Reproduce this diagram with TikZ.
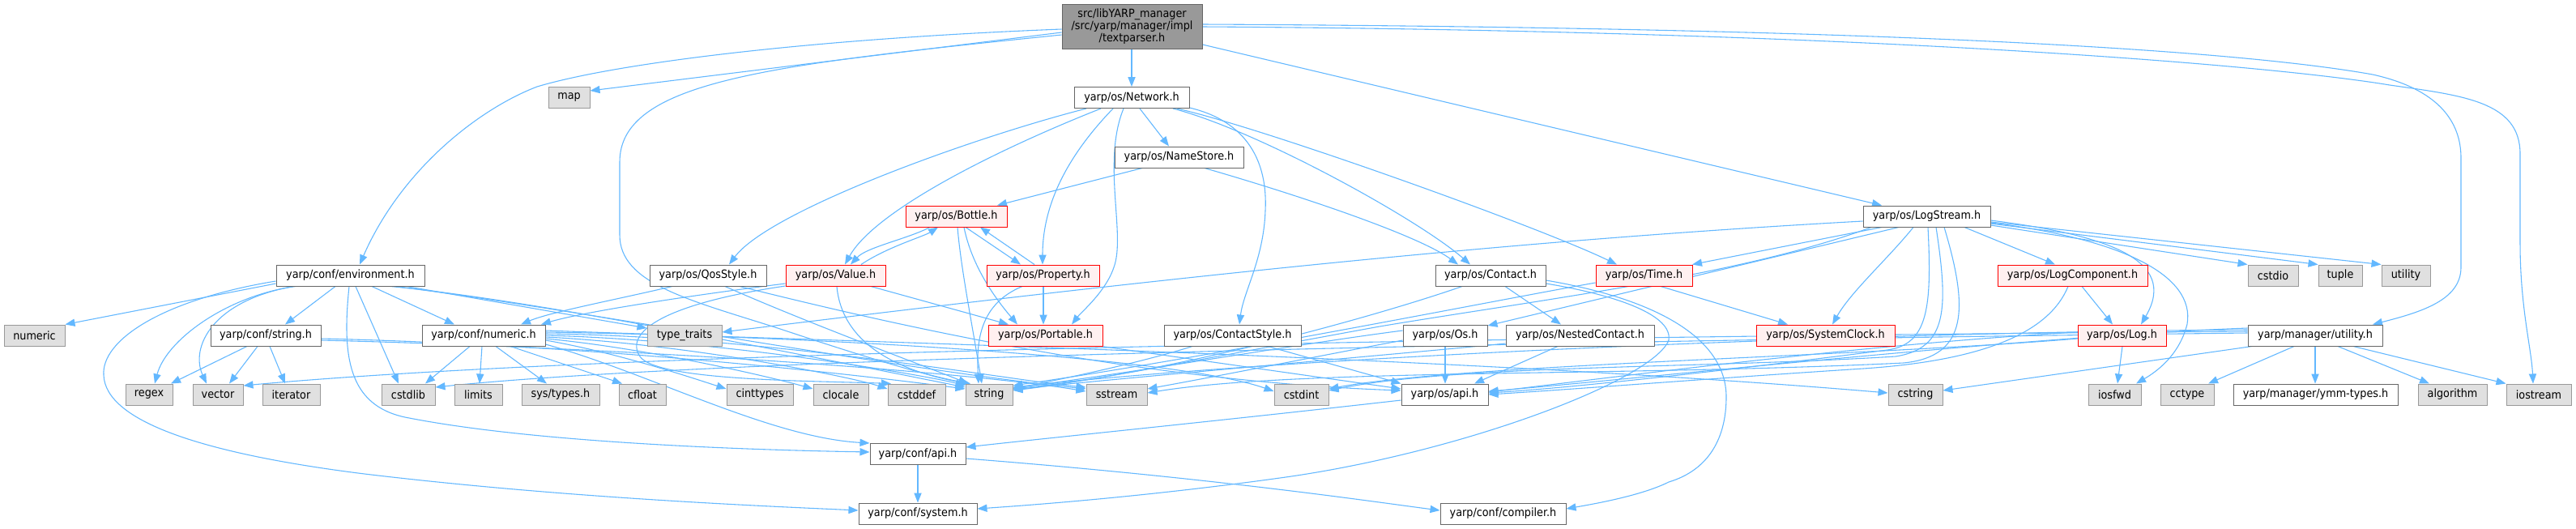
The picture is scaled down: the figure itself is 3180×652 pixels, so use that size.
\documentclass[tikz,border=0pt]{standalone}
\usepackage{fontspec}
\setmainfont{DejaVu Sans}[FakeStretch=0.91]
\usetikzlibrary{arrows.meta}
\definecolor{edgec}{HTML}{63B8FF}
\definecolor{sysfill}{HTML}{E0E0E0}
\definecolor{sysdraw}{HTML}{999999}
\definecolor{hdrdraw}{HTML}{666666}
\definecolor{redfill}{HTML}{FFF0F0}
\definecolor{rootfill}{HTML}{999999}
\pgfdeclarelayer{bgl}
\pgfdeclarelayer{edgel}
\pgfsetlayers{bgl,edgel,main}
\tikzset{
  box/.style={draw, line width=0.25mm, minimum height=6.5mm, inner sep=0pt, font=\fontsize{10pt}{12pt}\selectfont},
  hdr/.style={box, draw=hdrdraw, fill=white},
  sys/.style={box, draw=sysdraw, fill=sysfill},
  red/.style={box, draw=red, fill=redfill},
  root/.style={box, draw=hdrdraw, fill=rootfill, minimum height=13.75mm, align=center, font=\fontsize{10pt}{10.6pt}\selectfont},
  e/.style={draw=edgec, line width=0.27mm, -{Triangle[length=3mm,width=2.3mm]}}
}
\newcommand{\nd}[6]{\node[#1, minimum width={(#4-#3)*0.25mm}] (#2) at ({(#3+#4)/2},#5) {#6};}
\begin{document}
\begin{tikzpicture}[x=0.25mm,y=-0.25mm]
\useasboundingbox (0,0) rectangle (3180,652);
\begin{pgfonlayer}{bgl}
\fill[white] (0,0) rectangle (3180,652);
\end{pgfonlayer}
% rows
\nd{root}{tp}{1311}{1484}{32.5}{src/libYARP\_manager\\/src/yarp/manager/impl\\/textparser.h}
\nd{sys}{map}{677}{728}{120.5}{map}
\nd{hdr}{net}{1326}{1468}{120.5}{yarp/os/Network.h}
\nd{hdr}{ns}{1376}{1535}{194}{yarp/os/NameStore.h}
\nd{red}{bottle}{1118}{1243}{267}{yarp/os/Bottle.h}
\nd{hdr}{ls}{2300}{2457}{267}{yarp/os/LogStream.h}
\nd{hdr}{env}{341}{524}{340}{yarp/conf/environment.h}
\nd{hdr}{qos}{802}{946}{340}{yarp/os/QosStyle.h}
\nd{red}{value}{970}{1093}{340}{yarp/os/Value.h}
\nd{red}{prop}{1218}{1357}{340}{yarp/os/Property.h}
\nd{hdr}{contact}{1772}{1908}{340}{yarp/os/Contact.h}
\nd{red}{time}{1970}{2089}{340}{yarp/os/Time.h}
\nd{red}{lc}{2466}{2651}{340}{yarp/os/LogComponent.h}
\nd{sys}{cstdio}{2775}{2837}{340}{cstdio}
\nd{sys}{tuple}{2862}{2916}{340}{tuple}
\nd{sys}{utility}{2940}{3000}{340}{utility}
\nd{sys}{numeric}{5}{80}{414}{numeric}
\nd{hdr}{strh}{260}{396}{414}{yarp/conf/string.h}
\nd{hdr}{numh}{521}{673}{414}{yarp/conf/numeric.h}
\nd{sys}{tt}{799}{891}{414}{type\_traits}
\nd{red}{port}{1220}{1361}{414}{yarp/os/Portable.h}
\nd{hdr}{cstyle}{1437}{1606}{414}{yarp/os/ContactStyle.h}
\nd{hdr}{os}{1732}{1836}{414}{yarp/os/Os.h}
\nd{hdr}{nc}{1859}{2042}{414}{yarp/os/NestedContact.h}
\nd{red}{sc}{2168}{2339}{414}{yarp/os/SystemClock.h}
\nd{red}{log}{2565}{2674}{414}{yarp/os/Log.h}
\nd{hdr}{utilh}{2775}{2941}{414}{yarp/manager/utility.h}
\nd{sys}{regex}{155}{213}{487}{regex}
\nd{sys}{vector}{238}{300}{487}{vector}
\nd{sys}{iter}{324}{395}{487}{iterator}
\nd{sys}{cstdlib}{471}{537}{487}{cstdlib}
\nd{sys}{limits}{561}{620}{487}{limits}
\nd{sys}{systypes}{644}{740}{487}{sys/types.h}
\nd{sys}{cfloat}{764}{822}{487}{cfloat}
\nd{sys}{cinttypes}{897}{979}{487}{cinttypes}
\nd{sys}{clocale}{1004}{1072}{487}{clocale}
\nd{sys}{cstddef}{1096}{1167}{487}{cstddef}
\nd{sys}{string}{1192}{1250}{487}{string}
\nd{sys}{sstream}{1341}{1416}{487}{sstream}
\nd{sys}{cstdint}{1573}{1640}{487}{cstdint}
\nd{hdr}{osapi}{1730}{1837}{487}{yarp/os/api.h}
\nd{sys}{cstring}{2331}{2398}{487}{cstring}
\nd{sys}{iosfwd}{2578}{2643}{487}{iosfwd}
\nd{sys}{cctype}{2667}{2733}{487}{cctype}
\nd{hdr}{ymm}{2757}{2960}{487}{yarp/manager/ymm-types.h}
\nd{sys}{algo}{2985}{3070}{487}{algorithm}
\nd{sys}{iostream}{3094}{3174}{487}{iostream}
\nd{hdr}{confapi}{1074}{1192}{560.5}{yarp/conf/api.h}
\nd{hdr}{system}{1060}{1206}{634}{yarp/conf/system.h}
\nd{hdr}{compiler}{1778}{1933}{634}{yarp/conf/compiler.h}
\begin{pgfonlayer}{edgel}
% textparser
\draw[e] (tp.west |- 0,40) -- (map.east |- 0,112);
\draw[e] (tp.west |- 0,36) .. controls (1000,48) and (760,78) .. (663,107) .. controls (590,135) and (495,210) .. (444,0 |- env.north);
\draw[e] (tp.west |- 0,43) .. controls (950,80) and (765,100) .. (765,200) -- (765,290) .. controls (765,350) and (850,370) .. (960,405) .. controls (1080,445) and (1150,465) .. (1198,0 |- string.north);
\draw[e] (1397,0 |- tp.south) -- (1397,0 |- net.north);
\draw[e] (tp.east |- 0,55) -- (2323,0 |- ls.north);
\draw[e] (tp.east |- 0,30) .. controls (2300,34) and (2750,60) .. (2929,92) .. controls (3010,110) and (3038,150) .. (3038,195) -- (3038,330) .. controls (3038,370) and (2990,385) .. (2929,0 |- utilh.north);
\draw[e] (tp.east |- 0,33) .. controls (2300,38) and (2800,80) .. (2950,105) .. controls (3040,118) and (3111,125) .. (3111,190) -- (3111,300) .. controls (3111,380) and (3125,430) .. (3127,0 |- iostream.north);
% Network
\draw[e] (1341,0 |- net.south) .. controls (1200,170) and (950,260) .. (900,0 |- qos.north);
\draw[e] (1359,0 |- net.south) .. controls (1230,185) and (1080,260) .. (1043,0 |- value.north);
\draw[e] (1374,0 |- net.south) .. controls (1320,190) and (1287,250) .. (1287,0 |- prop.north);
\draw[e] (1387,0 |- net.south) .. controls (1360,200) and (1390,290) .. (1375,330) .. controls (1365,360) and (1335,385) .. (1323,0 |- port.north);
\draw[e] (1407,0 |- net.south) -- (1443,0 |- ns.north);
\draw[e] (1448,0 |- net.south) .. controls (1550,160) and (1750,270) .. (1815,0 |- contact.north);
\draw[e] (1453,0 |- net.south) .. controls (1560,158) and (1900,280) .. (1996,0 |- time.north);
\draw[e] (net.east |- 0,133) .. controls (1540,150) and (1565,200) .. (1562,260) .. controls (1560,320) and (1535,360) .. (1530,0 |- cstyle.north);
% NameStore
\draw[e] (1410,0 |- ns.south) -- (1231,0 |- bottle.north);
\draw[e] (1487,0 |- ns.south) .. controls (1600,240) and (1750,290) .. (1800,0 |- contact.north);
% Bottle
\draw[e] (1148,0 |- bottle.south) .. controls (1120,295) and (1070,305) .. (1050,0 |- value.north);
\draw[e] (1063,0 |- value.north) .. controls (1095,305) and (1140,292) .. (1158,0 |- bottle.south);
\draw[e] (1192,0 |- bottle.south) -- (1260,0 |- prop.north);
\draw[e] (1277,0 |- prop.north) -- (1210,0 |- bottle.south);
\draw[e] (1182,0 |- bottle.south) .. controls (1186,330) and (1200,400) .. (1212,0 |- string.north);
\draw[e] (1190,0 |- bottle.south) .. controls (1200,330) and (1230,370) .. (1256,0 |- port.north);
% Property
\draw[e] (1288,0 |- prop.south) -- (1288,0 |- port.north);
\draw[e] (1262,0 |- prop.south) .. controls (1210,375) and (1205,420) .. (1208,0 |- string.north);
% Value
\draw[e] (1075,0 |- value.south) -- (1245,0 |- port.north);
\draw[e] (1033,0 |- value.south) .. controls (1040,430) and (1120,460) .. (1196,0 |- string.north);
\draw[e] (value.west |- 0,350) .. controls (850,365) and (720,385) .. (668,0 |- numh.north);
\draw[e] (value.west |- 0,353) .. controls (820,375) and (770,410) .. (790,440) .. controls (810,470) and (1000,470) .. (1100,0 |- cstddef.north);
% QosStyle
\draw[e] (830,0 |- qos.south) .. controls (760,370) and (680,385) .. (643,0 |- numh.north);
\draw[e] (895,0 |- qos.south) .. controls (1000,400) and (1150,455) .. (1195,0 |- string.north);
\draw[e] (913,0 |- qos.south) .. controls (1100,400) and (1400,470) .. (osapi.west |- 0,482);
% environment
\draw[e] (env.west |- 0,350) -- (numeric.north east);
\draw[e] (365,0 |- env.south) .. controls (280,365) and (205,420) .. (191,0 |- regex.north);
\draw[e] (362,0 |- env.south) .. controls (260,372) and (235,430) .. (255,0 |- vector.north);
\draw[e] (414,0 |- env.south) -- (352,0 |- strh.north);
\draw[e] (439,0 |- env.south) -- (492,0 |- cstdlib.north);
\draw[e] (459,0 |- env.south) -- (561,0 |- numh.north);
\draw[e] (502,0 |- env.south) -- (tt.west |- 0,405);
\draw[e] (482,0 |- env.south) .. controls (650,370) and (900,420) .. (string.west |- 0,478);
\draw[e] (488,0 |- env.south) .. controls (700,380) and (1100,455) .. (sstream.west |- 0,480);
\draw[e] (431,0 |- env.south) .. controls (422,440) and (430,500) .. (500,515) .. controls (650,545) and (900,555) .. (confapi.west |- 0,558);
\draw[e] (env.west |- 0,347) .. controls (200,370) and (125,420) .. (128,463) .. controls (130,520) and (250,560) .. (450,585) .. controls (700,615) and (950,625) .. (system.west |- 0,630);
% conf/string.h
\draw[e] (305,0 |- strh.south) -- (211,0 |- regex.north);
\draw[e] (318,0 |- strh.south) -- (283,0 |- vector.north);
\draw[e] (333,0 |- strh.south) -- (352,0 |- iter.north);
\draw[e] (strh.east |- 0,418) .. controls (700,425) and (1000,455) .. (string.west |- 0,480);
\draw[e] (strh.east |- 0,420) .. controls (800,430) and (1200,460) .. (sstream.west |- 0,483);
% conf/numeric.h
\draw[e] (580,0 |- numh.south) -- (525,0 |- cstdlib.north);
\draw[e] (595,0 |- numh.south) -- (592,0 |- limits.north);
\draw[e] (612,0 |- numh.south) -- (675,0 |- systypes.north);
\draw[e] (630,0 |- numh.south) -- (768,0 |- cfloat.north);
\draw[e] (numh.east |- 0,420) .. controls (760,435) and (850,465) .. (cinttypes.west |- 0,480);
\draw[e] (numh.east |- 0,418) .. controls (800,430) and (950,465) .. (clocale.west |- 0,480);
\draw[e] (numh.east |- 0,416) .. controls (850,425) and (1050,465) .. (cstddef.west |- 0,480);
\draw[e] (numh.east |- 0,414) .. controls (900,420) and (1150,465) .. (string.west |- 0,476);
\draw[e] (numh.east |- 0,412) .. controls (950,415) and (1250,470) .. (sstream.west |- 0,478);
\draw[e] (numh.east |- 0,410) .. controls (1000,415) and (1450,440) .. (cstdint.west |- 0,483);
\draw[e] (numh.east |- 0,408) .. controls (1000,420) and (1800,440) .. (cstring.west |- 0,485);
\draw[e] (numh.east |- 0,425) .. controls (800,460) and (950,540) .. (confapi.north west);
% Contact
\draw[e] (1858,0 |- contact.south) -- (1927,0 |- nc.north);
\draw[e] (1805,0 |- contact.south) .. controls (1700,390) and (1450,460) .. (string.east |- 0,480);
\draw[e] (contact.east |- 0,346) .. controls (2050,370) and (2131,420) .. (2131,490) .. controls (2131,540) and (2110,580) .. (2060,595) .. controls (2030,610) and (1980,620) .. (compiler.east |- 0,628);
\draw[e] (contact.east |- 0,350) .. controls (2000,365) and (2065,390) .. (2060,420) .. controls (2040,470) and (1800,560) .. (1580,590) .. controls (1400,615) and (1250,625) .. (system.east |- 0,628);
% Time
\draw[e] (2050,0 |- time.south) -- (2207,0 |- sc.north);
\draw[e] (time.west |- 0,349) .. controls (1850,370) and (1500,440) .. (string.east |- 0,476);
% LogStream
\draw[e] (2323,0 |- ls.south) -- (2089,0 |- time.north);
\draw[e] (2362,0 |- ls.south) .. controls (2330,320) and (2285,360) .. (2262,0 |- sc.north);
\draw[e] (2344,0 |- ls.south) -- (os.east |- 0,402);
\draw[e] (ls.west |- 0,273) .. controls (1900,295) and (1500,335) .. (tt.east |- 0,410);
\draw[e] (2310,0 |- ls.south) .. controls (2150,340) and (1900,370) .. (1703,403) .. controls (1500,440) and (1350,470) .. (string.east |- 0,482);
\draw[e] (2425,0 |- ls.south) -- (2537,0 |- lc.north);
\draw[e] (ls.east |- 0,272) .. controls (2600,290) and (2690,320) .. (2643,0 |- log.north);
\draw[e] (ls.east |- 0,275) .. controls (2620,295) and (2710,340) .. (2700,400) .. controls (2690,440) and (2660,460) .. (2637,0 |- iosfwd.north);
\draw[e] (ls.east |- 0,278) -- (cstdio.north west);
\draw[e] (ls.east |- 0,276) -- (tuple.north west);
\draw[e] (ls.east |- 0,274) -- (utility.north west);
\draw[e] (2380,0 |- ls.south) .. controls (2385,380) and (2380,425) .. (2330,432) .. controls (2150,455) and (1950,478) .. (osapi.east |- 0,485);
\draw[e] (2390,0 |- ls.south) .. controls (2405,380) and (2405,430) .. (2340,440) .. controls (2100,455) and (1800,450) .. (cstdint.east |- 0,482);
\draw[e] (2400,0 |- ls.south) .. controls (2430,380) and (2430,440) .. (2350,448) .. controls (2000,465) and (1600,455) .. (sstream.east |- 0,485);
% LogComponent
\draw[e] (2570,0 |- lc.south) -- (2608,0 |- log.north);
\draw[e] (2553,0 |- lc.south) .. controls (2530,410) and (2450,445) .. (2300,455) .. controls (2100,468) and (1950,480) .. (osapi.east |- 0,487);
% Log
\draw[e] (2620,0 |- log.south) -- (2614,0 |- iosfwd.north);
\draw[e] (log.west |- 0,410) .. controls (2300,425) and (2000,465) .. (osapi.east |- 0,484);
\draw[e] (log.west |- 0,418) .. controls (2300,440) and (1800,450) .. (cstdint.east |- 0,480);
% utility.h
\draw[e] (2858,0 |- utilh.south) -- (2858,0 |- ymm.north);
\draw[e] (2832,0 |- utilh.south) -- (2726,0 |- cctype.north);
\draw[e] (2886,0 |- utilh.south) -- (2999,0 |- algo.north);
\draw[e] (2905,0 |- utilh.south) -- (iostream.north west);
\draw[e] (2780,0 |- utilh.south) -- (cstring.east |- 0,482);
\draw[e] (utilh.west |- 0,405) .. controls (2500,415) and (2000,470) .. (osapi.east |- 0,483);
\draw[e] (utilh.west |- 0,407) .. controls (2300,410) and (1600,440) .. (string.east |- 0,478);
\draw[e] (utilh.west |- 0,409) .. controls (2000,415) and (800,430) .. (vector.east |- 0,476);
\draw[e] (utilh.west |- 0,411) .. controls (2000,420) and (900,440) .. (cstdlib.east |- 0,478);
% Os
\draw[e] (1784,0 |- os.south) -- (1784,0 |- osapi.north);
\draw[e] (os.west |- 0,408) .. controls (1600,425) and (1400,460) .. (string.east |- 0,479);
\draw[e] (os.west |- 0,420) .. controls (1600,445) and (1500,465) .. (sstream.east |- 0,480);
% NestedContact
\draw[e] (1923,0 |- nc.south) -- (1820,0 |- osapi.north);
\draw[e] (nc.west |- 0,424) .. controls (1750,435) and (1400,465) .. (string.east |- 0,481);
% ContactStyle
\draw[e] (1565,0 |- cstyle.south) -- (osapi.north west);
\draw[e] (1472,0 |- cstyle.south) .. controls (1400,450) and (1300,470) .. (string.east |- 0,480);
% Portable
\draw[e] (1360,0 |- port.south) -- (osapi.west |- 0,480);
% os/api.h
\draw[e] (osapi.west |- 0,494) .. controls (1500,520) and (1300,540) .. (confapi.east |- 0,552);
% conf/api.h
\draw[e] (1133,0 |- confapi.south) -- (1133,0 |- system.north);
\draw[e] (confapi.east |- 0,566) .. controls (1500,590) and (1700,620) .. (compiler.west |- 0,630);
\end{pgfonlayer}
\end{tikzpicture}
\end{document}
